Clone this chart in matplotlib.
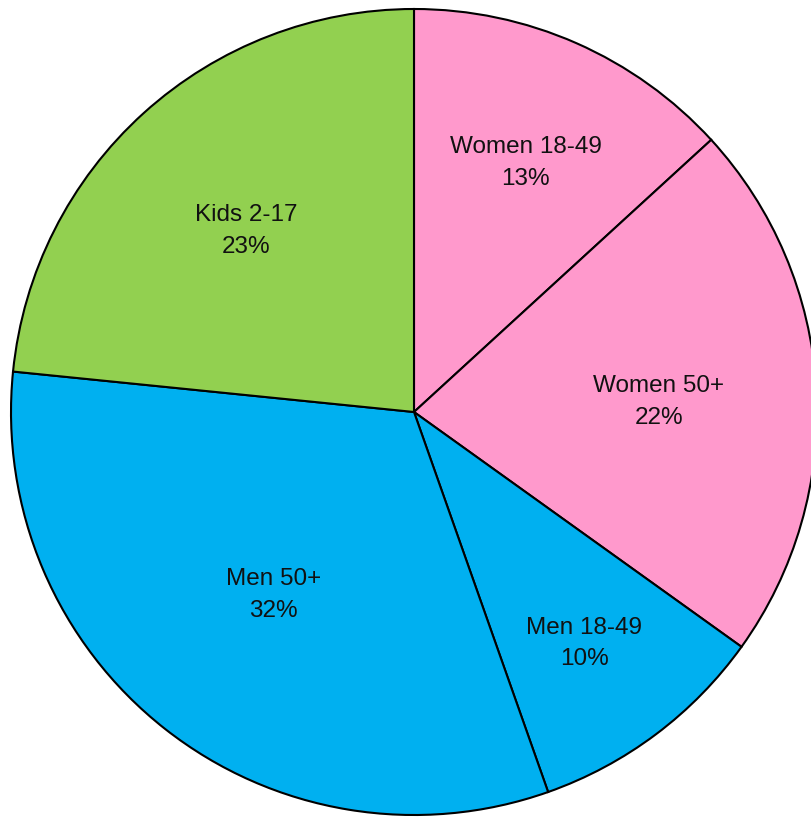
import numpy as np
import matplotlib
matplotlib.use("Agg")
import matplotlib.pyplot as plt

plt.rcParams["font.family"] = ["Liberation Sans", "DejaVu Sans"]

labels = ["Women 18-49", "Women 50+", "Men 18-49", "Men 50+", "Kids 2-17"]
values = [13.2, 21.7, 9.7, 32.0, 23.4]
pct_labels = ["13%", "22%", "10%", "32%", "23%"]
colors = ["#FF99CC", "#FF99CC", "#00B0F0", "#00B0F0", "#92D050"]

# label distance from centre (fraction of radius), like the excel best-fit
label_r = [0.689, 0.608, 0.703, 0.563, 0.622]

W, H = 811, 817
CX, CY, R = 414, 412, 403

fig = plt.figure(figsize=(W / 100, H / 100), dpi=100)
ax = fig.add_axes([0, 0, 1, 1])

wedges, _ = ax.pie(values, colors=colors, startangle=90, counterclock=False,
                   wedgeprops={"edgecolor": "black", "linewidth": 1.5})

for w, lab, pct, r in zip(wedges, labels, pct_labels, label_r):
    mid = np.deg2rad((w.theta1 + w.theta2) / 2.0)
    ax.text(r * np.cos(mid), r * np.sin(mid) - 0.012, "{}\n{}".format(lab, pct),
            ha="center", va="center", fontsize=17.5, linespacing=1.57,
            color="#111111")

ax.set_aspect("auto")
ax.set_xlim(-CX / R, (W - CX) / R)
ax.set_ylim(-(H - CY) / R, CY / R)
ax.axis("off")

fig.savefig("out.png", dpi=100)
